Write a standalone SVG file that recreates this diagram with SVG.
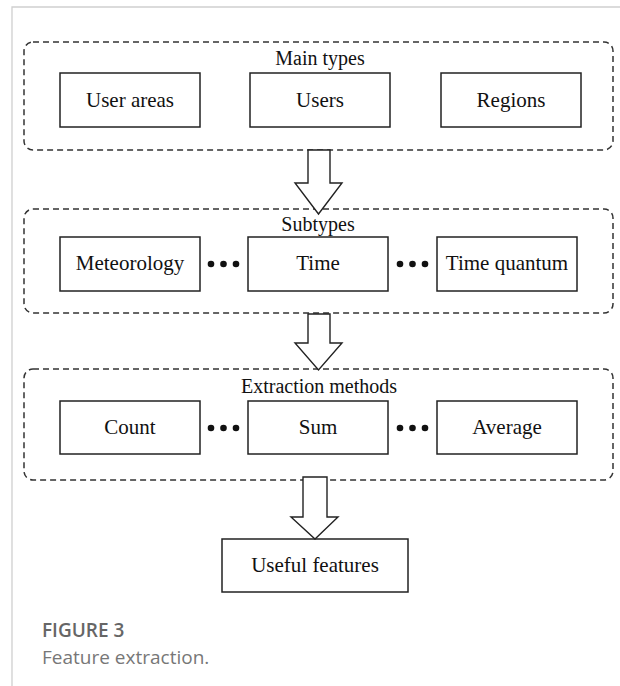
<svg xmlns="http://www.w3.org/2000/svg" width="620" height="686" viewBox="0 0 620 686">
<style>
.frame{fill:none;stroke:#cfcfcf;stroke-width:1.3}
.grp{fill:none;stroke:#333;stroke-width:1.5;stroke-dasharray:6 4}
.box{fill:#fff;stroke:#222;stroke-width:1.5}
.arr{fill:#fff;stroke:#222;stroke-width:1.4;stroke-linejoin:miter}
.t{font-family:"Liberation Serif","Times New Roman",serif;font-size:21px;fill:#111;text-anchor:middle}
.gt{font-family:"Liberation Serif","Times New Roman",serif;font-size:20px;fill:#111;text-anchor:middle}
.dot{fill:#111}
.cap1{font-family:"Open Sans","Noto Sans",sans-serif;font-size:19px;font-weight:600;fill:#666}
.cap2{font-family:"Open Sans","Noto Sans",sans-serif;font-size:19px;fill:#777}
</style>
<rect width="620" height="686" fill="#fff"/>
<path class="frame" d="M12,686 V7 H620"/>

<g id="group-main-types">
<rect class="grp" x="24" y="42" width="589" height="108" rx="9"/>
<text class="gt" x="320" y="65">Main types</text>
</g>
<g id="node-user-areas"><rect class="box" x="60" y="73" width="140" height="54"/><text class="t" x="130" y="107">User areas</text></g>
<g id="node-users"><rect class="box" x="250" y="73" width="140" height="54"/><text class="t" x="320" y="107">Users</text></g>
<g id="node-regions"><rect class="box" x="441" y="73" width="140" height="54"/><text class="t" x="511" y="107">Regions</text></g>

<g id="group-subtypes">
<rect class="grp" x="24" y="209" width="589" height="104" rx="9"/>
<text class="gt" x="318" y="231">Subtypes</text>
</g>
<g id="node-meteorology"><rect class="box" x="60" y="237" width="140" height="54"/><text class="t" x="130" y="270">Meteorology</text></g>
<g id="node-time"><rect class="box" x="248" y="237" width="140" height="54"/><text class="t" x="318" y="270">Time</text></g>
<g id="node-time-quantum"><rect class="box" x="437" y="237" width="140" height="54"/><text class="t" x="507" y="270">Time quantum</text></g>
<g id="dots-subtypes">
<circle class="dot" cx="211" cy="264" r="3.3"/><circle class="dot" cx="223.5" cy="264" r="3.3"/><circle class="dot" cx="236" cy="264" r="3.3"/>
<circle class="dot" cx="400" cy="264" r="3.3"/><circle class="dot" cx="412.5" cy="264" r="3.3"/><circle class="dot" cx="425" cy="264" r="3.3"/>
</g>

<g id="group-extraction">
<rect class="grp" x="24" y="369" width="589" height="111" rx="9"/>
<text class="gt" x="319" y="393">Extraction methods</text>
</g>
<g id="node-count"><rect class="box" x="60" y="401" width="140" height="53"/><text class="t" x="130" y="434">Count</text></g>
<g id="node-sum"><rect class="box" x="248" y="401" width="140" height="53"/><text class="t" x="318" y="434">Sum</text></g>
<g id="node-average"><rect class="box" x="437" y="401" width="140" height="53"/><text class="t" x="507" y="434">Average</text></g>
<g id="dots-extraction">
<circle class="dot" cx="211" cy="428" r="3.3"/><circle class="dot" cx="223.5" cy="428" r="3.3"/><circle class="dot" cx="236" cy="428" r="3.3"/>
<circle class="dot" cx="400" cy="428" r="3.3"/><circle class="dot" cx="412.5" cy="428" r="3.3"/><circle class="dot" cx="425" cy="428" r="3.3"/>
</g>

<g id="node-useful-features"><rect class="box" x="222" y="539" width="186" height="53"/><text class="t" x="315" y="572">Useful features</text></g>

<g id="connectors">
<polygon class="arr" points="308,150 330,150 330,183 342,183 318.5,214 295,183 308,183"/>
<polygon class="arr" points="308,314 330,314 330,343 342,343 318.5,370 295,343 308,343"/>
<polygon class="arr" points="303,477 327,477 327,517 338,517 315,539 291,517 303,517"/>
</g>

<text class="cap1" x="42" y="637">FIGURE 3</text>
<text class="cap2" x="42" y="664">Feature extraction.</text>
</svg>
